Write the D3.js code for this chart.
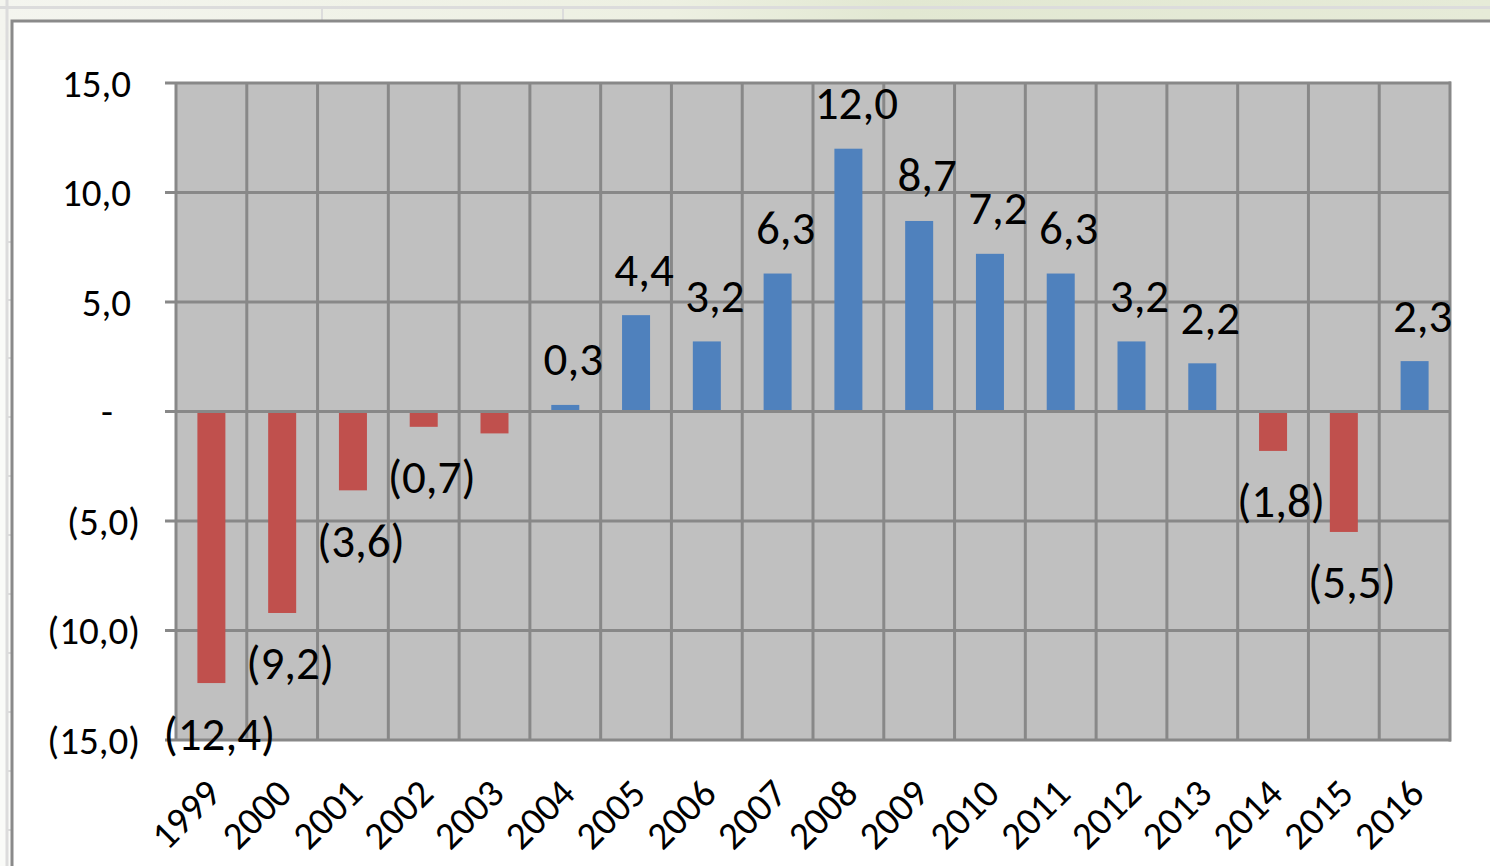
<!DOCTYPE html>
<html>
<head>
<meta charset="utf-8">
<script src="https://cdn.jsdelivr.net/npm/d3@7"></script>
<style>
  html, body { margin: 0; padding: 0; background: #ffffff; }
  svg { display: block; }
  text { font-family: Carlito, Calibri, Lato, "Open Sans", sans-serif; fill: #000; }
</style>
</head>
<body>
<svg id="chart" width="1490" height="866"></svg>
<script>
// ---- data ----
const years = ["1999","2000","2001","2002","2003","2004","2005","2006","2007","2008","2009","2010","2011","2012","2013","2014","2015","2016"];
const values = [-12.4, -9.2, -3.6, -0.7, -1.0, 0.3, 4.4, 3.2, 6.3, 12.0, 8.7, 7.2, 6.3, 3.2, 2.2, -1.8, -5.5, 2.3];
const valueLabels = ["(12,4)","(9,2)","(3,6)","(0,7)","","0,3","4,4","3,2","6,3","12,0","8,7","7,2","6,3","3,2","2,2","(1,8)","(5,5)","2,3"];
const yTicks = [15, 10, 5, 0, -5, -10, -15];
const yTickLabels = ["15,0","10,0","5,0","-","(5,0)","(10,0)","(15,0)"];

// ---- layout ----
const svg = d3.select("#chart");
const W = 1490, H = 866;
const plot = { left: 176, right: 1450, top: 83, bottom: 740 };

// background (faded page behind the chart)
const defs = svg.append("defs");
const grad = defs.append("linearGradient").attr("id", "bgGrad").attr("x1", 0).attr("x2", 1).attr("y1", 0).attr("y2", 0);
grad.append("stop").attr("offset", "0").attr("stop-color", "#f4f5ef");
grad.append("stop").attr("offset", "0.45").attr("stop-color", "#edf0e2");
grad.append("stop").attr("offset", "0.6").attr("stop-color", "#e2e8d2");
grad.append("stop").attr("offset", "1").attr("stop-color", "#e6ebd8");
svg.append("rect").attr("x", 0).attr("y", 0).attr("width", W).attr("height", H).attr("fill", "url(#bgGrad)");
svg.append("rect").attr("x", 0).attr("y", 60).attr("width", 12).attr("height", H).attr("fill", "#fafbf8");
svg.append("line").attr("x1", 0).attr("x2", W).attr("y1", 7.5).attr("y2", 7.5).attr("stroke", "#dcdcdc").attr("stroke-width", 3);
svg.append("line").attr("x1", 7).attr("x2", 7).attr("y1", 0).attr("y2", H).attr("stroke", "#dcdcdc").attr("stroke-width", 3);
[322, 563, 1592].forEach(xx => {
  svg.append("line").attr("x1", xx).attr("x2", xx).attr("y1", 7).attr("y2", 20).attr("stroke", "#dcdcdc").attr("stroke-width", 2);
});
[242, 300, 358, 417, 476, 535, 594, 653, 712, 771, 830].forEach(yy => {
  svg.append("line").attr("x1", 7).attr("x2", 11).attr("y1", yy).attr("y2", yy).attr("stroke", "#dcdcdc").attr("stroke-width", 2);
});

// chart frame
svg.append("rect").attr("x", 12).attr("y", 21).attr("width", W + 20).attr("height", H + 20)
  .attr("fill", "#ffffff").attr("stroke", "#8a8a8a").attr("stroke-width", 3);

// ---- scales ----
const x = d3.scaleBand().domain(years).range([plot.left, plot.right]).paddingInner(0).paddingOuter(0);
const y = d3.scaleLinear().domain([-15, 15]).range([plot.bottom, plot.top]);
const barW = 28;

const g = svg.append("g");

g.append("rect").attr("x", plot.left).attr("y", plot.top)
  .attr("width", plot.right - plot.left).attr("height", plot.bottom - plot.top)
  .attr("fill", "#c0c0c0");

const gridColor = "#888888";
yTicks.forEach(t => {
  g.append("line").attr("x1", plot.left - 11).attr("x2", plot.right + 1)
    .attr("y1", y(t)).attr("y2", y(t)).attr("stroke", gridColor).attr("stroke-width", 3);
});
years.forEach(d => {
  g.append("line").attr("x1", x(d)).attr("x2", x(d)).attr("y1", plot.top).attr("y2", plot.bottom)
    .attr("stroke", gridColor).attr("stroke-width", 3);
});
g.append("line").attr("x1", plot.right).attr("x2", plot.right).attr("y1", plot.top - 1.5).attr("y2", plot.bottom + 1.5)
  .attr("stroke", gridColor).attr("stroke-width", 3);

// bars
g.selectAll("rect.bar").data(values).enter().append("rect")
  .attr("class", "bar")
  .attr("x", (v, i) => x(years[i]) + x.bandwidth() / 2 - barW / 2)
  .attr("y", v => v >= 0 ? y(v) : y(0) + 1.5)
  .attr("width", barW)
  .attr("height", v => v >= 0 ? Math.max(0, y(0) - 1.5 - y(v)) : Math.max(0, y(v) - y(0) - 1.5))
  .attr("fill", v => v >= 0 ? "#4f81bd" : "#c0504d");

// data labels
g.selectAll("text.vlabel").data(values).enter().append("text")
  .attr("class", "vlabel")
  .attr("x", (v, i) => x(years[i]) + x.bandwidth() / 2 + 8)
  .attr("y", v => v >= 0 ? y(v) - 46 : y(v) + 50)
  .attr("dy", "0.35em")
  .attr("text-anchor", "middle")
  .style("font-size", "47px")
  .text((v, i) => valueLabels[i]);

// y axis labels
yTicks.forEach((t, i) => {
  const lbl = yTickLabels[i];
  let xe = 131;
  if (t < 0) xe = 140;
  if (t === 0) xe = 113;
  g.append("text").attr("x", xe).attr("y", y(t)).attr("dy", "0.35em")
    .attr("text-anchor", "end").style("font-size", "39px").text(lbl);
});

// x axis labels (rotated)
years.forEach(d => {
  const cx = x(d) + x.bandwidth() / 2 + 2;
  g.append("text")
    .attr("transform", `translate(${cx},${plot.bottom + 46}) rotate(-45)`)
    .attr("text-anchor", "end")
    .attr("dy", "0.35em")
    .style("font-size", "39px")
    .text(d);
});
</script>
</body>
</html>
